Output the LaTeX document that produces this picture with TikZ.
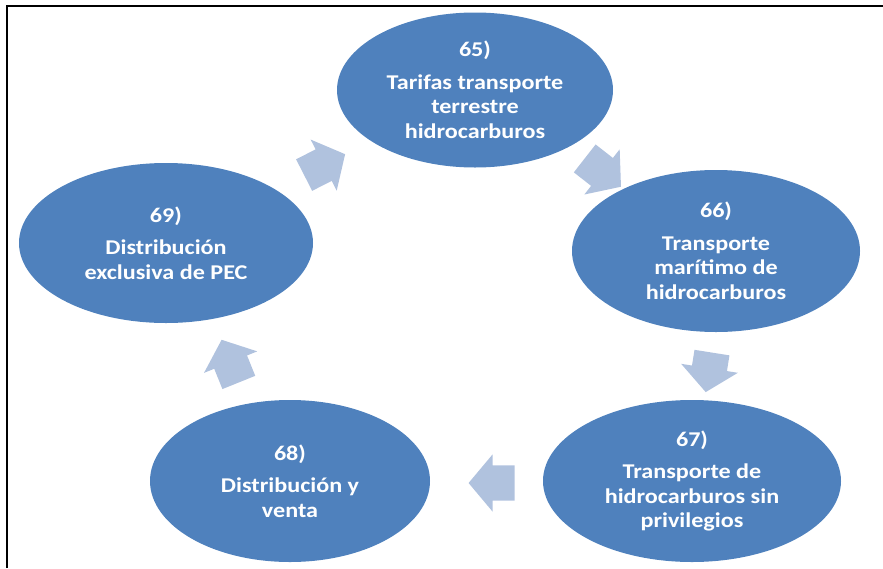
\documentclass[tikz,border=0pt]{standalone}
\usepackage{fontspec}
\setmainfont{Carlito}[FakeStretch=1.15]
\usepackage{tikz}
\usetikzlibrary{shapes.geometric, shapes.arrows, positioning}
\definecolor{cyclecolor0}{HTML}{4F81BD}
\definecolor{cyclecolor1}{HTML}{B0C2DE}
\definecolor{cyclecolor2}{HTML}{FFFFFF}
\tikzset{
  step_ellipse/.style={ellipse, fill=cyclecolor0, text=cyclecolor2, inner sep=0pt, align=center, font=\fontsize{21}{24.5}\selectfont\bfseries},
  cycle_arrow/.style={single arrow, fill=cyclecolor1, draw=none, inner sep=0pt, inner ysep=17.5pt, minimum height=46pt, single arrow head extend=11pt, single arrow tip angle=100},
  frame_line/.style={line width=2pt, color=black}
}
\begin{document}
\begin{tikzpicture}[x=1pt, y=-1pt]
\useasboundingbox (0,0) rectangle (883,568);
\draw[frame_line] (7,568) -- (7,6) -- (883,6);
\node[step_ellipse, minimum width=276pt, minimum height=155pt] (step_65) at (475,90) {65)\\[8pt]Tarifas transporte\\terrestre\\hidrocarburos};
\node[step_ellipse, minimum width=288pt, minimum height=162pt] (step_66) at (716,251) {66)\\[8pt]Transporte\\marítimo de\\hidrocarburos};
\node[step_ellipse, minimum width=298pt, minimum height=162pt] (step_67) at (692,481) {67)\\[8pt]Transporte de\\hidrocarburos sin\\privilegios};
\node[step_ellipse, minimum width=280pt, minimum height=162pt] (step_68) at (290,481) {68)\\[8pt]Distribución y\\venta};
\node[step_ellipse, minimum width=294pt, minimum height=160pt] (step_69) at (166,243) {69)\\[8pt]Distribución\\exclusiva de PEC};
% arrows between the steps
\node[cycle_arrow, rotate=27] (arrow_69_65) at (318,168) {};
\node[cycle_arrow, rotate=-38] (arrow_65_66) at (597,168) {};
\node[cycle_arrow, rotate=-99, minimum height=40pt] (arrow_66_67) at (710,365) {};
\node[cycle_arrow, rotate=180] (arrow_67_68) at (499,483) {};
\node[cycle_arrow, rotate=112] (arrow_68_69) at (233,368) {};
\end{tikzpicture}
\end{document}
